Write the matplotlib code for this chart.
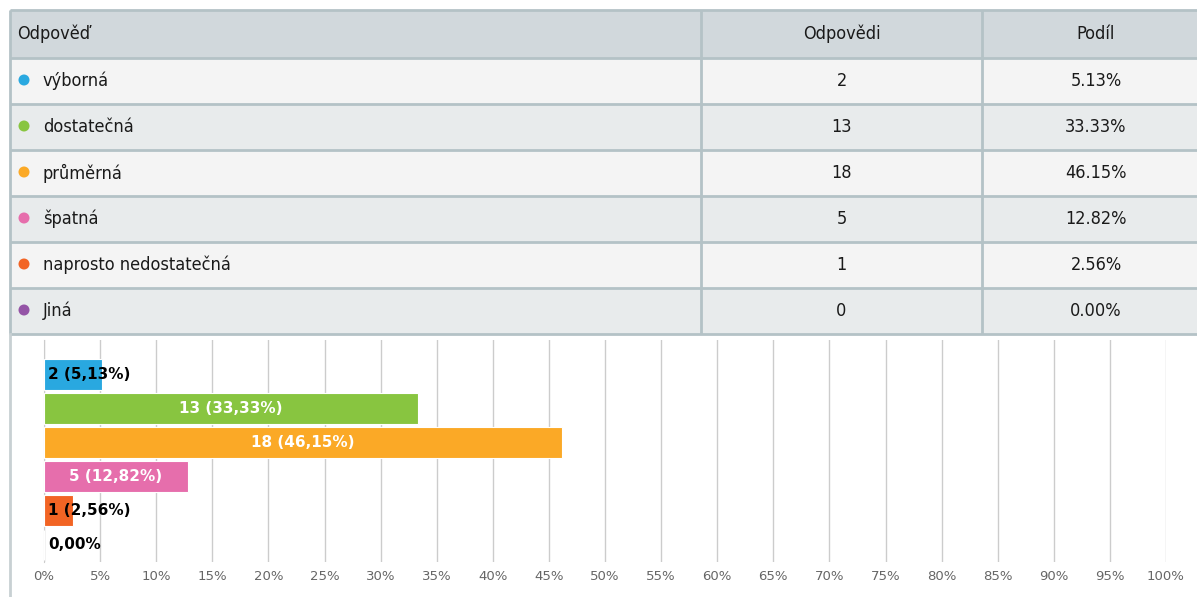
import matplotlib
matplotlib.use("Agg")
import os
import matplotlib.pyplot as plt
from matplotlib.patches import Rectangle, Circle
from matplotlib.ticker import FuncFormatter, MultipleLocator
from matplotlib import font_manager as fm

# ---- data ----
answers = ["výborná", "dostatečná", "průměrná", "špatná", "naprosto nedostatečná", "Jiná"]
counts = [2, 13, 18, 5, 1, 0]
shares = [5.13, 33.33, 46.15, 12.82, 2.56, 0.00]
colors = ["#29a8e0", "#88c540", "#fba926", "#e66eac", "#f26424", "#9454a6"]
headers = ["Odpověď", "Odpovědi", "Podíl"]

W, H = 1197, 597
fig = plt.figure(figsize=(W / 100, H / 100), dpi=100)
fig.patch.set_facecolor("white")

def pick_font():
    pref = {"DejaVuSansCondensed.ttf": 0, "LiberationSansNarrow-Regular.ttf": 1,
            "RobotoCondensed-Regular.ttf": 2}
    cands = []
    for f in fm.fontManager.ttflist:
        b = os.path.basename(f.fname)
        if b in pref:
            cands.append((pref[b], f.fname))
    cands.sort()
    return cands[0][1] if cands else None

fpath = pick_font()
if fpath:
    tfp = fm.FontProperties(fname=fpath, size=13)
else:
    tfp = fm.FontProperties(family="DejaVu Sans", size=12)

bg = fig.add_axes([0, 0, 1, 1])
bg.set_xlim(0, W)
bg.set_ylim(H, 0)
bg.axis("off")

left, col1, col2, right = 10, 701, 982, 1215
top, hdr_h, row_h = 10, 48, 46
line_c = "#b4c2c6"
tc = "#1a1a1a"

bg.add_patch(Rectangle((left, top), right - left, hdr_h, facecolor="#d1d8dc", edgecolor="none"))
hy = top + hdr_h / 2
bg.text(17, hy, headers[0], ha="left", va="center", fontproperties=tfp, color=tc)
bg.text((col1 + col2) / 2, hy, headers[1], ha="center", va="center", fontproperties=tfp, color=tc)
bg.text((col2 + 1210) / 2, hy, headers[2], ha="center", va="center", fontproperties=tfp, color=tc)

for i, (a, c, s, col) in enumerate(zip(answers, counts, shares, colors)):
    y0 = top + hdr_h + i * row_h
    fc = "#f4f4f4" if i % 2 == 0 else "#e8ebec"
    bg.add_patch(Rectangle((left, y0), right - left, row_h, facecolor=fc, edgecolor="none"))
    yc = y0 + row_h / 2
    bg.add_patch(Circle((24, yc - 1), 5.5, facecolor=col, edgecolor="none"))
    bg.text(43, yc, a, ha="left", va="center", fontproperties=tfp, color=tc)
    bg.text((col1 + col2) / 2, yc, str(c), ha="center", va="center", fontproperties=tfp, color=tc)
    bg.text((col2 + 1210) / 2, yc, f"{s:.2f}%", ha="center", va="center", fontproperties=tfp, color=tc)

n = len(answers)
bottom = top + hdr_h + n * row_h
for k in range(n + 2):
    y = top + (hdr_h + (k - 1) * row_h if k > 0 else 0)
    bg.plot([left, right], [y, y], color=line_c, lw=2, solid_capstyle="butt")
for x in (left, col1, col2):
    bg.plot([x, x], [top, bottom], color=line_c, lw=2, solid_capstyle="butt")
bg.plot([left, left], [bottom, H], color="#c8d0d3", lw=2)

# ---- bar chart ----
ax_l, ax_r, ax_t, ax_b = 44, 1166, 340, 562
ax = fig.add_axes([ax_l / W, (H - ax_b) / H, (ax_r - ax_l) / W, (ax_b - ax_t) / H])
ax.set_facecolor("none")
ypos = list(range(n))
ax.barh(ypos, shares, height=0.9, color=colors, edgecolor="white", linewidth=0.8, zorder=3)
ax.set_xlim(0, 100)
ax.set_ylim(n - 0.5, -1.0)
ax.xaxis.set_major_locator(MultipleLocator(5))
ax.xaxis.set_major_formatter(FuncFormatter(lambda v, p: f"{v:.0f}%"))
ax.grid(axis="x", color="#cccccc", lw=1, zorder=0)
ax.tick_params(axis="x", length=0, labelsize=9.5, labelcolor="#666666", pad=6)
ax.set_yticks([])
for sp in ("top", "right", "bottom"):
    ax.spines[sp].set_visible(False)
ax.spines["left"].set_color("#cccccc")

for y, c, s in zip(ypos, counts, shares):
    txt = f"{c} ({s:.2f}%)".replace(".", ",") if c > 0 else f"{s:.2f}%".replace(".", ",")
    if s > 10:
        ax.text(s / 2, y, txt, ha="center", va="center", fontsize=11, fontweight="bold",
                color="white", zorder=4)
    else:
        ax.text(0.35, y, txt, ha="left", va="center", fontsize=11, fontweight="bold",
                color="black", zorder=4)

fig.savefig("out.png", dpi=100)
